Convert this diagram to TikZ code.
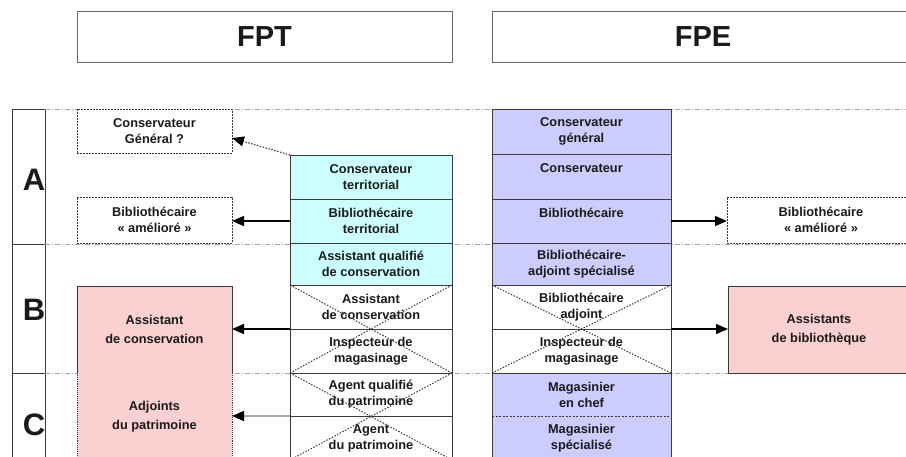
\documentclass[tikz,border=0pt]{standalone}
\usepackage{fontspec}
\setmainfont{Liberation Sans}
\usetikzlibrary{arrows.meta,calc}
\definecolor{cyanfill}{HTML}{CCFFFF}
\definecolor{purplefill}{HTML}{CCCCFF}
\definecolor{pinkfill}{HTML}{FAD0D0}
\definecolor{linegray}{HTML}{3A3A3A}
\definecolor{txt}{HTML}{1A1A1A}
\begin{document}
\begin{tikzpicture}[x=1pt,y=-1pt,
  box/.style={draw=linegray, line width=0.9pt, inner sep=0pt, outer sep=0pt,
    anchor=north west, align=center,
    font=\fontsize{12.8}{16}\selectfont\bfseries, text=txt},
  fptcell/.style={box, fill=cyanfill, minimum width=162pt},
  fpecell/.style={box, fill=purplefill, minimum width=179pt},
  crossed/.style={box, fill=white},
  sidebox/.style={box, fill=white, dashed, dash pattern=on 2pt off 1pt},
  pinkbox/.style={box, fill=pinkfill},
  header/.style={box, fill=white, draw=gray!80!black, line width=1pt,
    font=\fontsize{29}{32}\selectfont\bfseries},
  colcell/.style={draw=linegray, line width=0.9pt, inner sep=0pt, outer sep=0pt,
    anchor=north west, minimum width=33pt},
  letter/.style={font=\fontsize{31}{32}\selectfont\bfseries, text=txt, inner sep=0pt},
  rowline/.style={draw=gray!70, line width=0.8pt, dash pattern=on 5pt off 2pt on 1pt off 2pt},
  xline/.style={draw=linegray, line width=1pt, dash pattern=on 1.5pt off 1.5pt},
  tip/.style={-{Triangle[length=12pt,width=10pt,color=black,fill=black]}},
  arr/.style={draw=black, line width=1.3pt, tip},
  darr/.style={draw=linegray, line width=1.1pt, dash pattern=on 1.5pt off 1.5pt, tip},
]
\useasboundingbox (0,0) rectangle (906,456);
\clip (0,0) rectangle (906,456);
\fill[white] (0,0) rectangle (906,456);

% headers
\node[header, minimum width=375pt, minimum height=51pt] (hfpt) at (77,11) {FPT};
\node[header, minimum width=422pt, minimum height=51pt] (hfpe) at (492,11) {FPE};

% grade column
\node[colcell, minimum height=135pt] (ca) at (12,109) {};
\node[colcell, minimum height=129pt] (cb) at (12,244) {};
\node[colcell, minimum height=100pt] (cc) at (12,373) {};
\node[letter] (la) at (34,180) {A};
\node[letter] (lb) at (34,310) {B};
\node[letter] (lc) at (34,425) {C};

% row separators
\coordinate (r1a) at (45,109); \coordinate (r1b) at (906,109);
\coordinate (r2a) at (45,244); \coordinate (r2b) at (906,244);
\coordinate (r3a) at (45,373); \coordinate (r3b) at (906,373);
\draw[rowline] (r1a) -- (r1b);
\draw[rowline] (r2a) -- (r2b);
\draw[rowline] (r3a) -- (r3b);

% FPT column
\node[fptcell, minimum height=44pt] (ct) at (290,155) {Conservateur\\territorial};
\node[fptcell, minimum height=44pt] (bt) at (290,199) {Bibliothécaire\\territorial};
\node[fptcell, minimum height=42pt] (aqc) at (290,243) {Assistant qualifié\\de conservation};
\node[crossed, minimum width=162pt, minimum height=44pt] (adc) at (290,285) {Assistant\\de conservation};
\node[crossed, minimum width=162pt, minimum height=44pt] (ins1) at (290,329) {Inspecteur de\\magasinage};
\node[crossed, minimum width=162pt, minimum height=43pt] (aqp) at (290,373) {Agent qualifié\\du patrimoine};
\node[crossed, minimum width=162pt, minimum height=44pt] (ap) at (290,416) {Agent\\du patrimoine};
\draw[xline] (adc.north west) -- (ins1.south east);
\draw[xline] (adc.north east) -- (ins1.south west);
\draw[xline] (aqp.north west) -- (ap.south east);
\draw[xline] (aqp.north east) -- (ap.south west);

% FPE column
\node[fpecell, minimum height=45pt] (cg) at (492,109) {Conservateur\\général};
\node[fpecell, minimum height=45pt] (cons) at (492,154) {Conservateur\\\mbox{}};
\node[fpecell, minimum height=44pt] (bib) at (492,199) {Bibliothécaire\\\mbox{}};
\node[fpecell, minimum height=42pt] (bas) at (492,243) {Bibliothécaire-\\adjoint spécialisé};
\node[crossed, minimum width=179pt, minimum height=44pt] (ba) at (492,285) {Bibliothécaire\\adjoint};
\node[crossed, minimum width=179pt, minimum height=44pt] (ins2) at (492,329) {Inspecteur de\\magasinage};
\node[fpecell, draw=none, minimum height=43pt] (mc) at (492,373) {Magasinier\\en chef};
\node[fpecell, draw=none, minimum height=44pt] (ms) at (492,416) {Magasinier\\spécialisé};
\draw[draw=linegray, line width=0.9pt] (mc.north west) rectangle (ms.south east);
\draw[draw=linegray, line width=0.9pt, dash pattern=on 2pt off 1.5pt] (mc.south west) -- (mc.south east);
\draw[xline] (ba.north west) -- (ins2.south east);
\draw[xline] (ba.north east) -- (ins2.south west);

% left side boxes
\node[sidebox, minimum width=155pt, minimum height=44pt] (cgl) at (77,109) {Conservateur\\Général ?};
\node[sidebox, minimum width=155pt, minimum height=46pt] (bal) at (77,197) {Bibliothécaire\\«~amélioré~»};
\node[pinkbox, minimum width=155pt, minimum height=87pt, font=\fontsize{12.8}{19}\selectfont\bfseries] (asc) at (77,286) {Assistant\\de conservation};
\node[pinkbox, draw=none, minimum width=155pt, minimum height=87pt, font=\fontsize{12.8}{19}\selectfont\bfseries] (adj) at (77,373) {Adjoints\\du patrimoine};
\draw[draw=linegray, line width=0.9pt, densely dotted] (adj.north west) -- (adj.south west);
\draw[draw=linegray, line width=0.9pt, densely dotted] (adj.north east) -- (adj.south east);

% right side boxes
\node[sidebox, minimum width=188pt, minimum height=46pt] (bar) at (727,197) {Bibliothécaire\\«~amélioré~»};
\node[pinkbox, minimum width=182pt, minimum height=87pt, font=\fontsize{12.8}{19}\selectfont\bfseries] (asb) at (728,286) {Assistants\\de bibliothèque};

% connectors
\draw[darr] (ct.north west) -- ($(cgl.east)+(0,7)$);
\draw[arr] (bt.west) -- (bt.west -| bal.east);
\draw[arr] (bib.east) -- (bib.east -| bar.west);
\draw[arr] (adc.south west) -- (adc.south west -| asc.east);
\draw[arr] (ba.south east) -- (ba.south east -| asb.west);
\draw[arr, draw=gray!70] (aqp.south west) -- (aqp.south west -| adj.east);
\end{tikzpicture}
\end{document}
